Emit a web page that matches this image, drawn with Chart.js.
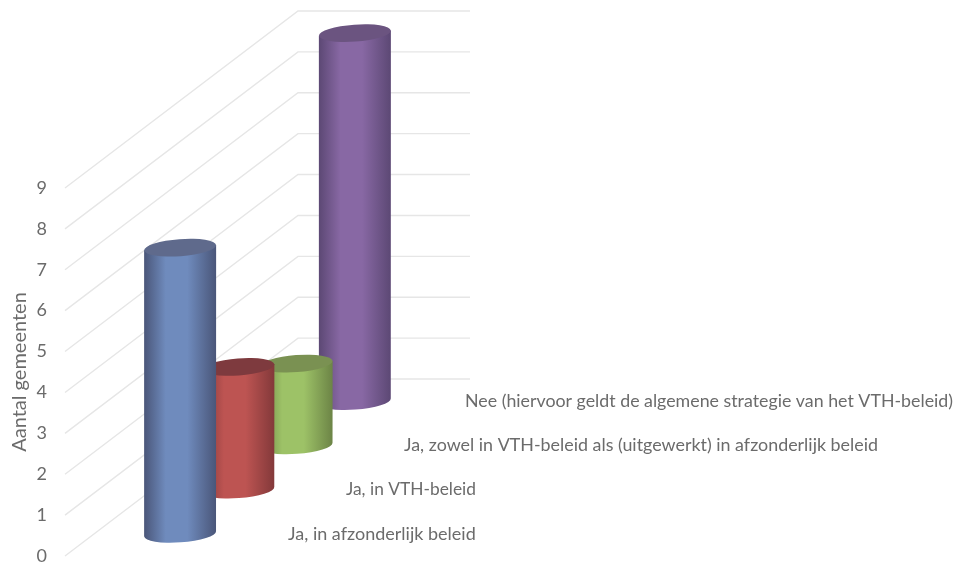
<!DOCTYPE html>
<html>
<head>
<meta charset="utf-8">
<style>html,body{margin:0;padding:0;background:#fff}#wrap{position:relative;width:955px;height:563px}</style>
<script src="https://cdn.jsdelivr.net/npm/chart.js@4/dist/chart.umd.min.js"></script>
</head>
<body>
<div id="wrap"><canvas id="c" width="955" height="563"></canvas></div>
<script>
const categories = [""];
const seriesLabels = [
  "Ja, in afzonderlijk beleid",
  "Ja, in VTH-beleid",
  "Ja, zowel in VTH-beleid als (uitgewerkt) in afzonderlijk beleid",
  "Nee (hiervoor geldt de algemene strategie van het VTH-beleid)"
];
const seriesValues = [7, 3, 2, 9];
const yTicks = [0, 1, 2, 3, 4, 5, 6, 7, 8, 9];
const axisTitle = "Aantal gemeenten";

// Styling only
const palette = [
  {edge:"#4a5679", mid:"#6f8bbd", top:"#5f6a8c"},
  {edge:"#83393a", mid:"#bd5452", top:"#7e3a3e"},
  {edge:"#6c8446", mid:"#9dc267", top:"#7a9152"},
  {edge:"#5c4874", mid:"#8868a4", top:"#6b5480"}
];
const labelLeft = [288, 346, 404, 465];
const labelWidth = [188, 130, 474, 488];
const DEPTH_X = 233, DEPTH_Y = -177, DEPTH_SLOTS = seriesLabels.length;
const TEXT = "#6b6b6b", GRID = "#e6e6e6";

function slotOffset(i){ return {x: DEPTH_X*(i+0.5)/DEPTH_SLOTS, y: DEPTH_Y*(i+0.5)/DEPTH_SLOTS}; }

class CylinderController extends Chart.BarController {
  draw(){
    const ctx = this.chart.ctx, i = this.index, c = palette[i], off = slotOffset(i);
    for (const el of this.getMeta().data){
      const cx = el.x + off.x, top = el.y + off.y, bot = el.base + off.y, r = el.width/2;
      const ry = 8.5, tilt = -0.075, dy = r*Math.sin(tilt);
      const g = ctx.createLinearGradient(cx-r,0,cx+r,0);
      g.addColorStop(0, c.edge); g.addColorStop(0.3, c.mid); g.addColorStop(0.6, c.mid); g.addColorStop(1, c.edge);
      ctx.save();
      ctx.beginPath();
      ctx.moveTo(cx-r, top-dy);
      ctx.lineTo(cx-r, bot-dy);
      ctx.ellipse(cx, bot, r, ry, tilt, Math.PI, 0, true);
      ctx.lineTo(cx+r, top+dy);
      ctx.closePath();
      ctx.fillStyle = g; ctx.fill();
      ctx.beginPath();
      ctx.ellipse(cx, top, r, ry, tilt, 0, Math.PI*2);
      ctx.fillStyle = c.top; ctx.fill();
      ctx.restore();
    }
  }
}
CylinderController.id = "cylinder";
CylinderController.defaults = Chart.BarController.defaults;
CylinderController.overrides = Chart.BarController.overrides;
Chart.register(CylinderController);

const wallsAndLabels = {
  id: "wallsAndLabels",
  beforeDatasetsDraw(chart){
    const {ctx, chartArea:a, scales:{y}} = chart;
    ctx.save();
    ctx.strokeStyle = GRID; ctx.lineWidth = 1.4;
    for (const v of yTicks){
      const p = y.getPixelForValue(v);
      ctx.beginPath();
      ctx.moveTo(a.left, p);
      ctx.lineTo(a.left+DEPTH_X, p+DEPTH_Y);
      ctx.lineTo(a.right+DEPTH_X, p+DEPTH_Y);
      ctx.stroke();
    }
    ctx.restore();
  },
  afterDraw(chart){
    const {ctx, scales:{y}} = chart;
    ctx.save();
    ctx.fillStyle = TEXT; ctx.textBaseline = "middle"; ctx.textAlign = "left";
    ctx.font = "18px Lato";
    seriesLabels.forEach((t,i)=>{
      ctx.fillText(t, labelLeft[i], y.getPixelForValue(0)+slotOffset(i).y, labelWidth[i]);
    });
    ctx.restore();
  }
};

new Chart(document.getElementById("c"), {
  type: "cylinder",
  data: {
    labels: categories,
    datasets: seriesLabels.map((label,i)=>({
      label, data:[seriesValues[i]], backgroundColor: palette[i].mid,
      grouped:false, barThickness:72, clip:false
    }))
  },
  options: {
    responsive:false, animation:false,
    layout:{padding:{top:188,bottom:7,right:718,left:0}},
    plugins:{legend:{display:false},tooltip:{enabled:false}},
    scales:{
      x:{display:false, offset:true},
      y:{
        min:0,max:9,
        afterBuildTicks(s){ s.ticks = yTicks.map(value=>({value})); },
        afterFit(s){ s.width = 65; s.paddingBottom = 0; s.paddingTop = 0; },
        grid:{display:false, drawTicks:false}, border:{display:false},
        ticks:{color:TEXT,font:{family:"Lato",size:18},padding:18,stepSize:1},
        title:{display:true,text:axisTitle,color:TEXT,font:{family:"Lato",size:20},padding:{top:8,bottom:0}}
      }
    }
  },
  plugins:[wallsAndLabels]
});
</script>
</body>
</html>
